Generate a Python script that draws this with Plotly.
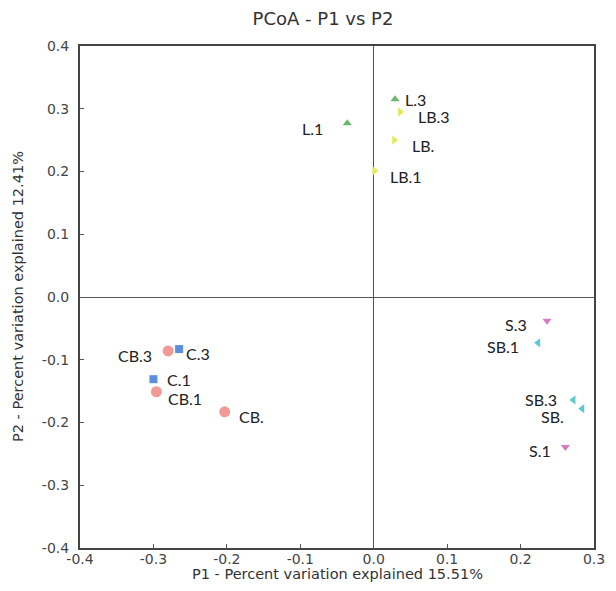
import plotly.graph_objects as go

groups = ["C", "CB", "L", "LB", "S", "SB"]
labels = {
    "C": ["C.3", "C.1"],
    "CB": ["CB.3", "CB.1", "CB."],
    "L": ["L.1", "L.3"],
    "LB": ["LB.3", "LB.", "LB.1"],
    "S": ["S.3", "S.1"],
    "SB": ["SB.1", "SB.3", "SB."],
}
p1 = {
    "C": [-0.265, -0.300],
    "CB": [-0.280, -0.296, -0.203],
    "L": [-0.036, 0.029],
    "LB": [0.036, 0.028, 0.001],
    "S": [0.236, 0.261],
    "SB": [0.224, 0.272, 0.284],
}
p2 = {
    "C": [-0.083, -0.131],
    "CB": [-0.086, -0.151, -0.183],
    "L": [0.277, 0.315],
    "LB": [0.295, 0.250, 0.201],
    "S": [-0.038, -0.239],
    "SB": [-0.073, -0.164, -0.178],
}

# label placement (style only): (anchor side, x shift px, y shift px downward)
label_style = {
    "C": [("left", 5, 4), ("left", 12, 0)],
    "CB": [("right", -14, 5), ("left", 10, 7), ("left", 12, 5)],
    "L": [("right", -22, 5), ("left", 8, 0)],
    "LB": [("left", 16, 5), ("left", 16, 5), ("left", 14, 6)],
    "S": [("right", -18, 4), ("right", -12, 4)],
    "SB": [("right", -17, 4), ("right", -14, 0), ("right", -16, 8)],
}
colors = {"C": "#5b8fe0", "CB": "#f29a96", "L": "#6cb86c", "LB": "#e6e85a",
          "S": "#d27cc8", "SB": "#5cc8d2"}
symbols = {"C": "square", "CB": "circle", "L": "triangle-up", "LB": "triangle-right",
           "S": "triangle-down", "SB": "triangle-left"}
sizes = {"C": 8, "CB": 11, "L": 8, "LB": 8, "S": 8, "SB": 8}

tick_vals = [-0.4, -0.3, -0.2, -0.1, 0.0, 0.1, 0.2, 0.3, 0.4]
tick_text = ["-0.4", "-0.3", "-0.2", "-0.1", "0.0", "0.1", "0.2", "0.3", "0.4"]
x_title = "P1 - Percent variation explained 15.51%"
y_title = "P2 - Percent variation explained 12.41%"

fig = go.Figure()
annotations = []
for g in groups:
    fig.add_trace(go.Scatter(
        x=p1[g], y=p2[g], mode="markers",
        marker=dict(symbol=symbols[g], size=sizes[g], color=colors[g]),
        name=g, showlegend=False, cliponaxis=False,
    ))
    for lab, x, y, (side, dx, dy) in zip(labels[g], p1[g], p2[g], label_style[g]):
        annotations.append(dict(
            x=x, y=y, xref="x", yref="y", text=lab, showarrow=False,
            xanchor=side, yanchor="middle", xshift=dx, yshift=-dy,
            font=dict(family="Lato, Open Sans, sans-serif", size=16, color="#222"),
        ))

axis_font = dict(family="DejaVu Sans", size=14.5, color="#333")
annotations.append(dict(x=0.5, y=0, xref="paper", yref="paper", text=x_title,
                        showarrow=False, xanchor="center", yanchor="top", yshift=-16,
                        font=axis_font))
annotations.append(dict(x=0, y=0.5, xref="paper", yref="paper", text=y_title,
                        showarrow=False, xanchor="center", yanchor="middle", xshift=-62,
                        textangle=-90, font=axis_font))

axis_common = dict(
    showgrid=False, zeroline=True, zerolinecolor="#555", zerolinewidth=1,
    showline=True, linecolor="#444", linewidth=2, mirror=True,
    ticks="inside", ticklen=4, tickcolor="#555", automargin=False,
    ticklabeloverflow="allow",
    tickfont=dict(family="DejaVu Sans", size=14, color="#444"),
    tickvals=tick_vals, ticktext=tick_text,
)
# page body has an 8px default margin, so the figure is sized 600x575
fig.update_layout(
    width=600, height=575,
    paper_bgcolor="white", plot_bgcolor="white",
    margin=dict(l=72, r=14, t=38, b=35),
    annotations=annotations,
    title=dict(text="PCoA - P1 vs P2", x=0.525, xanchor="center", y=0.982, yanchor="middle",
               font=dict(family="DejaVu Sans", size=18, color="#333")),
    xaxis=dict(range=[-0.4, 0.3], ticklabelstandoff=-3, **axis_common),
    yaxis=dict(range=[-0.4, 0.4], ticklabelstandoff=6, **axis_common),
)
fig.write_html("out.html")
